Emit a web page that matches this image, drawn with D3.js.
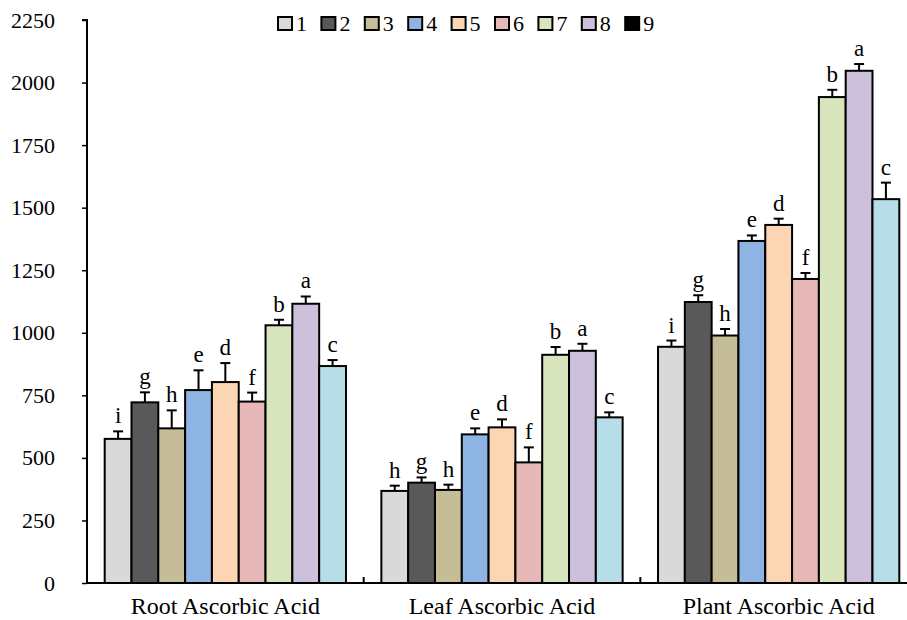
<!DOCTYPE html>
<html lang="en">
  <head>
    <meta charset="UTF-8" />
    <title>Ascorbic acid</title>
    <script src="https://cdn.jsdelivr.net/npm/d3@7"></script>
    <style>
      body { margin: 0; background: #fff; }
      svg text { font-family: "Liberation Serif", "Times New Roman", serif; fill: #000; }
    </style>
  </head>
  <body>
    <div class="chart"></div>
    <script>
      // data
      const groups = ["Root Ascorbic Acid", "Leaf Ascorbic Acid", "Plant Ascorbic Acid"];
      const treatments = ["1", "2", "3", "4", "5", "6", "7", "8", "9"];
      const colors = ["#d9d9d9", "#595959", "#c4bd97", "#8db4e2", "#fcd5b4", "#e6b8b7", "#d8e4bc", "#ccc0da", "#b7dee8"];
      const legendColors = ["#d9d9d9", "#595959", "#c4bd97", "#8db4e2", "#fcd5b4", "#e6b8b7", "#d8e4bc", "#ccc0da", "#000000"];
      const rootValues = [576, 722, 618, 771, 803, 725, 1030, 1116, 867];
      const rootErrors = [30, 40, 72, 79, 76, 36, 22, 29, 24];
      const leafValues = [368, 401, 372, 594, 622, 482, 912, 928, 662];
      const leafErrors = [21, 21, 21, 24, 32, 60, 31, 28, 20];
      const plantValues = [944, 1123, 989, 1367, 1431, 1215, 1942, 2047, 1534];
      const plantErrors = [25, 27, 26, 22, 25, 24, 29, 27, 66];
      const rootLetters = ["i", "g", "h", "e", "d", "f", "b", "a", "c"];
      const leafLetters = ["h", "g", "h", "e", "d", "f", "b", "a", "c"];
      const plantLetters = ["i", "g", "h", "e", "d", "f", "b", "a", "c"];
      const yTicks = [0, 250, 500, 750, 1000, 1250, 1500, 1750, 2000, 2250];

      const width = 907;
      const height = 620;
      const serif = '"Liberation Serif", "Times New Roman", serif';

      const valuesByGroup = [rootValues, leafValues, plantValues];
      const errorsByGroup = [rootErrors, leafErrors, plantErrors];
      const lettersByGroup = [rootLetters, leafLetters, plantLetters];

      const data = [];
      groups.forEach((g, gi) => {
        treatments.forEach((t, ti) => {
          data.push({
            group: g,
            t: t,
            i: ti,
            value: valuesByGroup[gi][ti],
            err: errorsByGroup[gi][ti],
            letter: lettersByGroup[gi][ti],
          });
        });
      });

      const svg = d3
        .select(".chart")
        .append("svg")
        .attr("width", width)
        .attr("height", height);

      const x0 = d3.scaleBand().domain(groups).range([87, 917]).padding(0);
      const x1 = d3
        .scaleBand()
        .domain(treatments)
        .range([0, x0.bandwidth()])
        .paddingInner(0)
        .paddingOuter(0.66);
      const y = d3.scaleLinear().domain([0, 2250]).range([583, 20]);

      // y axis
      const yAxis = d3
        .axisLeft(y)
        .tickValues(yTicks)
        .tickFormat(d3.format("d"))
        .tickSize(5)
        .tickPadding(27);
      const yg = svg.append("g").attr("transform", "translate(87,0)").call(yAxis);
      yg.attr("font-family", serif).attr("font-size", 22);
      yg.select(".domain").attr("stroke", "#000").attr("stroke-width", 2).attr("d", "M-5,20H0V583");
      yg.selectAll(".tick line").attr("stroke", "#000").attr("stroke-width", 1.5);
      yg.selectAll(".tick text").style("font-family", serif).style("font-size", "22px");

      // bars
      svg
        .append("g")
        .selectAll("rect")
        .data(data)
        .join("rect")
        .attr("x", (d) => x0(d.group) + x1(d.t))
        .attr("y", (d) => y(d.value))
        .attr("width", x1.bandwidth())
        .attr("height", (d) => y(0) - y(d.value))
        .attr("fill", (d) => colors[d.i])
        .attr("stroke", "#000")
        .attr("stroke-width", 2);

      // error bars (upper only)
      const eb = svg.append("g").attr("stroke", "#000").attr("stroke-width", 2);
      data.forEach((d) => {
        const cx = x0(d.group) + x1(d.t) + x1.bandwidth() / 2;
        eb.append("line").attr("x1", cx).attr("x2", cx).attr("y1", y(d.value)).attr("y2", y(d.value + d.err));
        eb.append("line").attr("x1", cx - 5).attr("x2", cx + 5).attr("y1", y(d.value + d.err)).attr("y2", y(d.value + d.err));
      });

      // letters
      svg
        .append("g")
        .selectAll("text")
        .data(data)
        .join("text")
        .attr("x", (d) => x0(d.group) + x1(d.t) + x1.bandwidth() / 2)
        .attr("y", (d) => y(d.value + d.err) - 8)
        .attr("text-anchor", "middle")
        .style("font-size", "23px")
        .text((d) => d.letter);

      // x axis baseline and separators
      const xg = svg.append("g");
      xg.append("line").attr("x1", 86).attr("x2", 917).attr("y1", 583).attr("y2", 583).attr("stroke", "#000").attr("stroke-width", 2);
      groups.slice(1).forEach((g) => {
        xg.append("line").attr("x1", x0(g)).attr("x2", x0(g)).attr("y1", 583).attr("y2", 577).attr("stroke", "#000").attr("stroke-width", 2);
      });
      xg.selectAll(".cat")
        .data(groups)
        .join("text")
        .attr("class", "cat")
        .attr("x", (d) => x0(d) + x0.bandwidth() / 2)
        .attr("y", 614)
        .attr("text-anchor", "middle")
        .style("font-size", "24px")
        .text((d) => d);

      // legend
      const lg = svg.append("g").attr("transform", "translate(278,0)");
      const item = lg
        .selectAll("g")
        .data(treatments)
        .join("g")
        .attr("transform", (d, i) => `translate(${i * 43.4},0)`);
      item
        .append("rect")
        .attr("x", 0)
        .attr("y", 17)
        .attr("width", 14)
        .attr("height", 13)
        .attr("fill", (d, i) => legendColors[i])
        .attr("stroke", "#000")
        .attr("stroke-width", 2);
      item
        .append("text")
        .attr("x", 18)
        .attr("y", 31)
        .style("font-size", "22px")
        .text((d) => d);
    </script>
  </body>
</html>
